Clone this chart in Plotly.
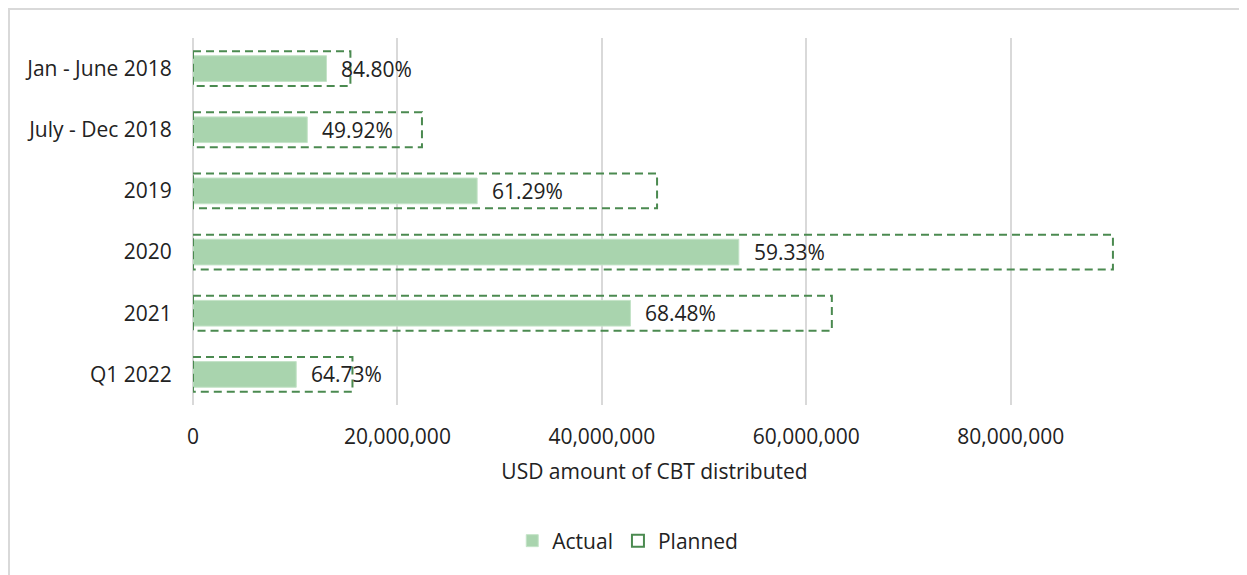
import plotly.graph_objects as go

# values (USD)
periods = ["Jan - June 2018", "July - Dec 2018", "2019", "2020", "2021", "Q1 2022"]
actual = [13.06e6, 11.18e6, 27.8e6, 53.4e6, 42.8e6, 10.1e6]
planned = [15.4e6, 22.4e6, 45.4e6, 90.0e6, 62.5e6, 15.6e6]
pct_done = [84.80, 49.92, 61.29, 59.33, 68.48, 64.73]
x_ticks = [0, 20e6, 40e6, 60e6, 80e6]

# the page puts the figure 8px in from the top-left corner
W, H = 1247, 575
L, R, T, B = 185, 139, 30, 178
pw, ph = W - L - R, H - T - B

FONT = "Open Sans"
FS = 21
TXT = "#222222"
FILL = "#a9d4ae"
DASH_COL = "#4b8a50"

fig = go.Figure()
fig.add_trace(go.Bar(
    y = periods, x = actual, orientation = "h", name = "Actual",
    width = 0.42,
    marker = dict(color = FILL, line = dict(color = "#c4e3c8", width = 1)),
    hovertemplate = "%{y}: %{x:,.0f}<extra>Actual</extra>",
))

# dashed outlines for the planned amounts
for i, p in enumerate(planned):
    fig.add_shape(
        type = "rect", xref = "x", yref = "y",
        x0 = 0, x1 = p, y0 = i - 0.285, y1 = i + 0.285,
        line = dict(color = DASH_COL, width = 2, dash = "8px,5px"),
        fillcolor = "rgba(0,0,0,0)", layer = "above",
        name = "Planned", legendgroup = "planned",
        showlegend = i == 0,
    )

# percentage labels just past the actual bars
for i, (a, v) in enumerate(zip(actual, pct_done)):
    fig.add_annotation(
        x = a, y = i, xref = "x", yref = "y",
        text = f"{v:.2f}%", showarrow = False,
        xanchor = "left", xshift = 13,
        font = dict(family = FONT, size = FS, color = TXT),
    )

# light frame around the chart area (runs off the right/bottom edge)
fig.add_shape(
    type = "rect", xref = "paper", yref = "paper",
    x0 = (1 - L) / pw, x1 = (W + 20 - L) / pw,
    y0 = -(B + 20) / ph, y1 = 1 + (T - 1) / ph,
    line = dict(color = "#d9d9d9", width = 2),
    fillcolor = "rgba(0,0,0,0)", layer = "below",
)

fig.update_xaxes(
    range = [0, 90.3e6], automargin = False,
    tickvals = x_ticks,
    ticktext = [f"{v:,.0f}" for v in x_ticks],
    showgrid = True, gridcolor = "#d9d9d9", gridwidth = 2,
    zeroline = True, zerolinecolor = "#d9d9d9", zerolinewidth = 2,
    showline = False,
    ticks = "outside", ticklen = 13, tickcolor = "rgba(0,0,0,0)",
    tickfont = dict(family = FONT, size = FS, color = TXT),
    title = dict(text = "USD amount of CBT distributed", standoff = 15,
                 font = dict(family = FONT, size = FS, color = TXT)),
)
fig.update_yaxes(
    type = "category", autorange = "reversed", automargin = False,
    categoryorder = "array", categoryarray = periods,
    showgrid = False, showline = False,
    ticks = "outside", ticklen = 16, tickcolor = "rgba(0,0,0,0)",
    tickfont = dict(family = FONT, size = FS, color = TXT),
)
fig.update_layout(
    width = W, height = H,
    margin = dict(l = L, r = R, t = T, b = B, autoexpand = False),
    paper_bgcolor = "white", plot_bgcolor = "white",
    font = dict(family = FONT, size = FS, color = TXT),
    showlegend = True,
    legend = dict(
        orientation = "h", xref = "container", yref = "container",
        x = 0.497, xanchor = "center", y = 42 / H, yanchor = "middle",
        font = dict(family = FONT, size = FS, color = TXT),
        itemwidth = 30, tracegroupgap = 0,
    ),
)

fig.write_html("out.html")
